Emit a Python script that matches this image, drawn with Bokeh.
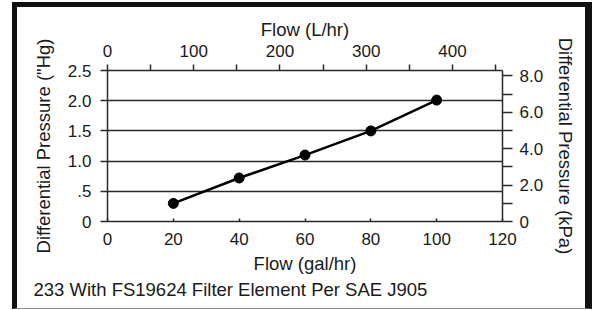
import math
from bokeh.plotting import figure
from bokeh.layouts import column
from bokeh.models import (LinearAxis, Range1d, FixedTicker, Grid, Title)
from bokeh.embed import file_html
from bokeh.resources import INLINE

# ---- data ----
flow_gph = [20, 40, 60, 80, 100]
dp_inhg = [0.30, 0.72, 1.10, 1.50, 2.01]

x_ticks = [0, 20, 40, 60, 80, 100, 120]
y_ticks = [0, 0.5, 1.0, 1.5, 2.0, 2.5]
y_tick_labels = ["0", ".5", "1.0", "1.5", "2.0", "2.5"]
lhr_ticks = [0, 100, 200, 300, 400]
lhr_minor = [50, 150, 250, 350, 450]
kpa_ticks = [0, 2, 4, 6, 8]
kpa_labels = ["0", "2.0", "4.0", "6.0", "8.0"]
kpa_minor = [1, 3, 5, 7]

x_title = "Flow (gal/hr)"
top_title = "Flow (L/hr)"
left_title = 'Differential Pressure ("Hg)'
right_title = "Differential Pressure (kPa)"
caption = "233 With FS19624 Filter Element Per SAE J905"

FONT = "Liberation Sans"
TXT = "#1a1a1a"
LINE = "#2a2a2a"

OX, OY = 17, 7                     # figure origin on the page (inside the frame border)
W, H = 568, 301
FL, FR, FT, FB = 107 - OX, 502 - OX, 70 - OY, 221 - OY   # plot frame box in figure px
p = figure(width=W, height=H, output_backend="svg", toolbar_location=None,
           x_range=Range1d(0, 120), y_range=Range1d(0, 2.5),
           min_border_left=FL, min_border_right=W - FR, min_border_top=FT, min_border_bottom=H - FB,
           x_axis_location=None, y_axis_location=None,
           background_fill_color="white", border_fill_color="white",
           outline_line_color=None)
p.grid.visible = False
p.extra_x_ranges = {"lhr": Range1d(0, 458)}
p.extra_y_ranges = {"kpa": Range1d(0, 8.3)}

def style(ax, tick_out, tick_in=0, minor_out=0):
    ax.axis_line_color = LINE
    ax.axis_line_width = 1.5
    ax.major_tick_line_color = LINE
    ax.major_tick_line_width = 1.5
    ax.major_tick_out = tick_out
    ax.major_tick_in = tick_in
    ax.minor_tick_line_color = LINE
    ax.minor_tick_line_width = 1.5
    ax.minor_tick_out = minor_out
    ax.minor_tick_in = 0
    ax.major_label_text_font = FONT
    ax.major_label_text_font_size = "17px"
    ax.major_label_text_color = TXT
    ax.axis_label_text_font = FONT
    ax.axis_label_text_font_size = "18.5px"
    ax.axis_label_text_font_style = "normal"
    ax.axis_label_text_color = TXT

left = LinearAxis(ticker=FixedTicker(ticks=y_ticks), axis_label=left_title)
left.major_label_overrides = {t: l for t, l in zip(y_ticks, y_tick_labels)}
style(left, 7)
left.major_label_standoff = 9
left.axis_label_standoff = 11
p.add_layout(left, "left")

bottom = LinearAxis(ticker=FixedTicker(ticks=x_ticks), axis_label=x_title)
style(bottom, 0, tick_in=3)
bottom.major_label_standoff = 11
bottom.axis_label_standoff = 5
p.add_layout(bottom, "below")

top = LinearAxis(x_range_name="lhr", ticker=FixedTicker(ticks=lhr_ticks, minor_ticks=lhr_minor),
                 axis_label=top_title)
style(top, 6, minor_out=6)
top.major_label_standoff = 8
top.axis_label_standoff = 2
p.add_layout(top, "above")

right = LinearAxis(y_range_name="kpa", ticker=FixedTicker(ticks=kpa_ticks, minor_ticks=kpa_minor),
                   axis_label=right_title)
right.major_label_overrides = {t: l for t, l in zip(kpa_ticks, kpa_labels)}
style(right, 10, minor_out=10)
right.major_label_standoff = 7
right.axis_label_standoff = 9
p.add_layout(right, "right")

p.add_layout(Grid(dimension=1, ticker=FixedTicker(ticks=y_ticks),
                  grid_line_color=LINE, grid_line_width=1.5))

p.line(flow_gph, dp_inhg, line_color="black", line_width=2.5)
p.scatter(flow_gph, dp_inhg, size=10, fill_color="black", line_color="black")

cap = Title(text=caption, align="left", offset=33 - 107, standoff=0,
            text_font=FONT, text_font_size="18.5px", text_font_style="normal", text_color=TXT)
p.add_layout(cap, "below")

page = column(p, styles={"margin-left": "12px", "margin-top": "2px",
                         "border-left": "5px solid #111111", "border-top": "5px solid #111111",
                         "border-right": "7px solid #111111", "border-bottom": "1px solid #888888"})

open("out.html", "w").write(file_html(page, INLINE))
